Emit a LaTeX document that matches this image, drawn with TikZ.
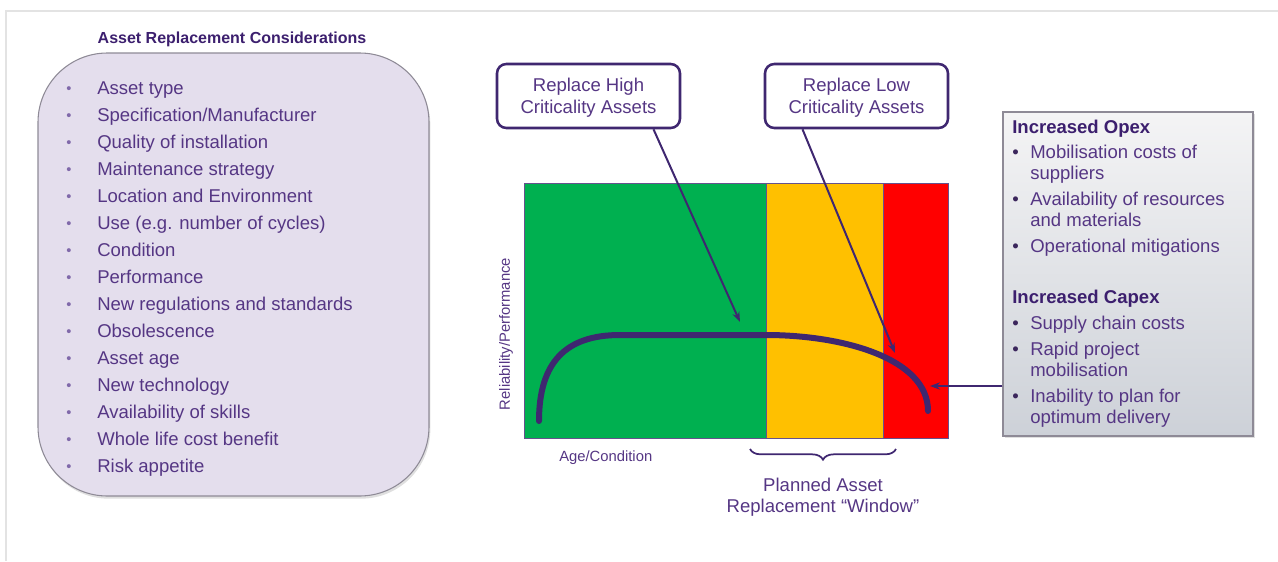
\documentclass[tikz,border=0pt]{standalone}
\usepackage{fontspec}
\setmainfont{Liberation Sans}
\usetikzlibrary{arrows.meta,decorations.pathreplacing,shadows,calc}

\definecolor{ink}{HTML}{553684}
\definecolor{inkdark}{HTML}{3C1F6E}
\definecolor{curvecol}{HTML}{3F2770}
\definecolor{lav}{HTML}{E4DEED}
\definecolor{boxedge}{HTML}{8E8A96}
\definecolor{zgreen}{HTML}{00B050}
\definecolor{zyellow}{HTML}{FFC000}
\definecolor{zred}{HTML}{FF0000}
\definecolor{pagerule}{HTML}{E3E3E3}
\definecolor{bulletcol}{HTML}{8069AA}
\definecolor{greytop}{HTML}{F4F4F5}
\definecolor{greybot}{HTML}{CDD1D8}

\newcommand\txtA{\fontsize{13.9pt}{16.5pt}\selectfont}
\newcommand\txtB{\fontsize{11.1pt}{13pt}\selectfont}

\begin{document}
\begin{tikzpicture}[x=0.75pt,y=-0.75pt,
  lbox/.style={draw=boxedge, line width=0.8pt, fill=lav, rounded corners=52pt,
    inner sep=0pt, minimum width=293.25pt, minimum height=332.25pt,
    drop shadow={opacity=0.25, shadow xshift=1pt, shadow yshift=-2pt}},
  rbox/.style={draw=boxedge, line width=0.8pt, top color=greytop, bottom color=greybot,
    inner sep=0pt, minimum width=187.5pt, minimum height=243pt,
    drop shadow={opacity=0.25, shadow xshift=1.5pt, shadow yshift=-1.5pt}},
  callout/.style={draw=curvecol, line width=1.9pt, fill=white, rounded corners=7pt,
    inner sep=0pt, minimum width=137.25pt, minimum height=48pt},
  callouttext/.style={align=center, font=\txtA, text=ink, inner sep=0pt},
  zone/.style={draw=curvecol!80, line width=0.6pt, inner sep=0pt, outer sep=0pt,
    minimum height=191.25pt},
  item/.style={anchor=base west, inner sep=0pt, text=ink, font=\txtA},
  head/.style={anchor=base west, inner sep=0pt, text=inkdark, font=\txtA\bfseries},
  bul/.style={anchor=base, inner sep=0pt, text=bulletcol, font=\fontsize{11pt}{12pt}\selectfont},
  rbul/.style={anchor=base west, inner sep=0pt, text=ink!70!black, font=\txtA},
  ptr/.style={draw=curvecol, line width=1.5pt, -{Stealth[length=7.5pt,width=5.5pt]}},
  curveline/.style={draw=curvecol, line width=4.5pt, line cap=round},
  bracecol/.style={draw=curvecol, line width=1.3pt,
    decorate, decoration={brace, amplitude=8pt, mirror}},
  rule/.style={draw=pagerule, line width=0.8pt}
]
\useasboundingbox (0,0) rectangle (1278,561);

% page frame
\draw[rule] (5,11) -- (1278,11);
\draw[rule] (6,11) -- (6,561);

% considerations panel
\node[font=\bfseries\fontsize{12pt}{14pt}\selectfont, text=inkdark] (title) at (232,39.5)
  {Asset Replacement Considerations};
\node[lbox] (cons) at (233.5,274.5) {};
\foreach \t [count=\i from 0] in {Asset type, Specification/Manufacturer,
  Quality of installation, Maintenance strategy, Location and Environment,
  Use (e.g. number of cycles), Condition, Performance,
  New regulations and standards, Obsolescence, Asset age, New technology,
  Availability of skills, Whole life cost benefit, Risk appetite}{
  \node[bul] (b\i) at (69,93+27*\i) {•};
  \node[item] (l\i) at (97,94.5+27*\i) {\t};
}

% condition zones
\node[zone, fill=zgreen, minimum width=181.5pt] (green) at (645,310.5) {};
\node[zone, fill=zyellow, minimum width=87.75pt] (yellow) at (824.5,310.5) {};
\node[zone, fill=zred, minimum width=48.75pt] (red) at (915.5,310.5) {};

% axis labels
\node[rotate=90, font=\txtB, text=ink, inner sep=0pt] (ylab) at (506,334) {Reliability/Performance};
\node[anchor=west, font=\txtB, text=ink, inner sep=0pt] (xlab) at (559,458) {Age/Condition};

% reliability curve
\coordinate (c0) at (539,421);
\coordinate (c1) at (620,335);
\coordinate (c2) at (766,335);
\coordinate (c3) at (928,411);
\draw[curveline] (c0) .. controls (539,362) and (566,335) .. (c1) -- (c2)
  .. controls (842,335) and (928,358) .. (c3);

% callouts
\node[callout] (hi) at (588.5,96) {};
\node[callouttext] (hitext) at (588.5,98) {Replace High\\Criticality Assets};
\node[callout] (lo) at (856.5,96) {};
\node[callouttext] (lotext) at (856.5,98) {Replace Low\\Criticality Assets};
\coordinate (t1) at (740,322);
\coordinate (t2) at (895,353);
\coordinate (t3) at (930,386);
\draw[ptr] ($(hi.south)+(65,0)$) -- (t1);
\draw[ptr] ($(lo.south)+(-54,0)$) -- (t2);

% cost panel
\node[rbox] (costs) at (1128,274) {};
\draw[ptr] ($(costs.west)+(0,112)$) -- (t3);

\node[head] (opex) at (1012,133) {Increased Opex};
\node[rbul] (ob1) at (1012,158) {•};
\node[item] (o1a) at (1030,158) {Mobilisation costs of};
\node[item] (o1b) at (1030,179) {suppliers};
\node[rbul] (ob2) at (1012,205) {•};
\node[item] (o2a) at (1030,205) {Availability of resources};
\node[item] (o2b) at (1030,226) {and materials};
\node[rbul] (ob3) at (1012,252) {•};
\node[item] (o3a) at (1030,252) {Operational mitigations};

\node[head] (capex) at (1012,303) {Increased Capex};
\node[rbul] (cb1) at (1012,329) {•};
\node[item] (c1a) at (1030,329) {Supply chain costs};
\node[rbul] (cb2) at (1012,355) {•};
\node[item] (c2a) at (1030,355) {Rapid project};
\node[item] (c2b) at (1030,376) {mobilisation};
\node[rbul] (cb3) at (1012,402) {•};
\node[item] (c3a) at (1030,402) {Inability to plan for};
\node[item] (c3b) at (1030,423) {optimum delivery};

% replacement window
\coordinate (w0) at (750,449);
\coordinate (w1) at (896,449);
\draw[bracecol] (w0) -- (w1);
\node[align=center, font=\fontsize{13.9pt}{15.75pt}\selectfont, text=ink, inner sep=0pt]
  (window) at (823,497) {Planned Asset\\Replacement “Window”};
\end{tikzpicture}
\end{document}
